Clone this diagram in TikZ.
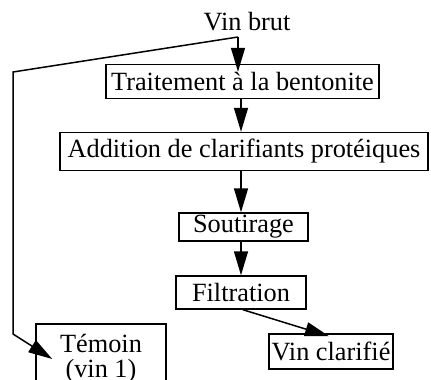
\documentclass[tikz,border=0pt]{standalone}
\usepackage{fontspec}
\setmainfont{Liberation Serif}
\usetikzlibrary{arrows.meta,calc}
\begin{document}
\begin{tikzpicture}[x=1pt,y=-1pt,
  txt/.style={font=\fontsize{26.3}{25}\selectfont, inner sep=0pt},
  stepbox/.style={txt, draw, line width=1.5pt},
  conn/.style={line width=1.5pt},
  arr/.style={conn, -{Triangle[length=24pt,width=14pt]}}]
\useasboundingbox (0,0) rectangle (431,380);
\clip (0,0) rectangle (431,380);
\fill[white] (0,0) rectangle (431,380);

\node[txt] (vin) at (247,22) {Vin brut};
\node[stepbox, minimum width=273pt, minimum height=34pt] (trait) at (242.5,81.5) {Traitement à la bentonite};
\node[stepbox, minimum width=368pt, minimum height=38pt] (add) at (244,151.5) {Addition de clarifiants protéiques};
\node[stepbox, minimum width=129pt, minimum height=28pt] (sout) at (243.5,227) {Soutirage};
\node[stepbox, minimum width=130pt, minimum height=33pt] (filt) at (241,292.5) {Filtration};
\node[stepbox, minimum width=124pt, minimum height=35pt] (clar) at (331,351.5) {Vin clarifié};
\node[stepbox, minimum width=130pt, anchor=north, align=center, inner ysep=3pt] (temoin) at (101,323) {\rule{0pt}{26pt}Témoin\\(vin 1)\rule[-14pt]{0pt}{0pt}};

\coordinate (split) at (238,37);
\coordinate (ax) at (241,0);
\coordinate (c1) at (13,72);
\coordinate (c2) at (13,334);

\draw[arr] (split) -- ($(split |- trait.north)+(0,8)$);
\draw[arr] (trait.south -| ax) -- (add.north -| ax);
\draw[arr] (add.south -| ax) -- (sout.north -| ax);
\draw[arr] (sout.south -| ax) -- (filt.north -| ax);
\draw[arr] ($(filt.south)+(2,0)$) -- ($(clar.north)+(-2,3)$);
\draw[arr] (split) -- (c1) -- (c2) -- ($(temoin.north west)+(17,36)$);
\end{tikzpicture}
\end{document}
